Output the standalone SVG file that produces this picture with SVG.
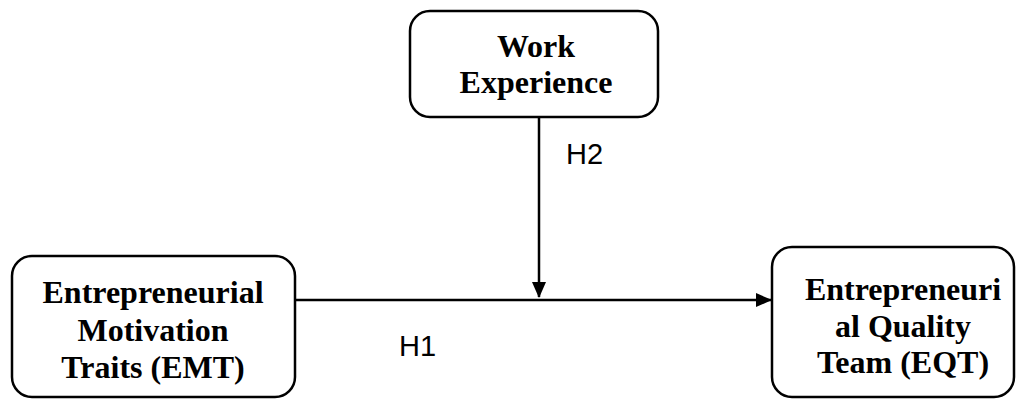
<svg xmlns="http://www.w3.org/2000/svg" width="1016" height="400" viewBox="0 0 1016 400">
<style>
.box{fill:#fff;stroke:#000;stroke-width:2.5}
.t{font-family:"Liberation Serif","Times New Roman",serif;font-weight:bold;font-size:32px;text-anchor:middle;fill:#000}
.h{font-family:"Liberation Sans",Arial,sans-serif;font-size:29px;fill:#000}
.c{stroke:#000;stroke-width:2.5;fill:none}
</style>
<defs>
<marker id="arr" markerWidth="16" markerHeight="14" refX="15" refY="7" orient="auto" markerUnits="userSpaceOnUse">
<path d="M0,0 L16,7 L0,14 Z" fill="#000"/>
</marker>
</defs>
<rect width="1016" height="400" fill="#fff"/>
<g id="connectors">
<line class="c" x1="296" y1="300" x2="771" y2="300" marker-end="url(#arr)"/>
<line class="c" x1="539" y1="117" x2="539" y2="297" marker-end="url(#arr)"/>
<text class="h" x="566" y="164">H2</text>
<text class="h" x="399" y="356">H1</text>
</g>
<g id="work">
<rect class="box" x="410" y="11" width="248" height="106" rx="20"/>
<text class="t" x="536" y="57">Work</text>
<text class="t" x="536" y="93">Experience</text>
</g>
<g id="emt">
<rect class="box" x="12" y="256" width="283" height="141" rx="20"/>
<text class="t" x="153" y="303">Entrepreneurial</text>
<text class="t" x="153" y="341">Motivation</text>
<text class="t" x="153" y="378">Traits (EMT)</text>
</g>
<g id="eqt">
<rect class="box" x="772" y="247" width="242" height="150" rx="20"/>
<text class="t" x="903" y="300">Entrepreneuri</text>
<text class="t" x="903" y="337">al Quality</text>
<text class="t" x="903" y="373">Team (EQT)</text>
</g>
</svg>
